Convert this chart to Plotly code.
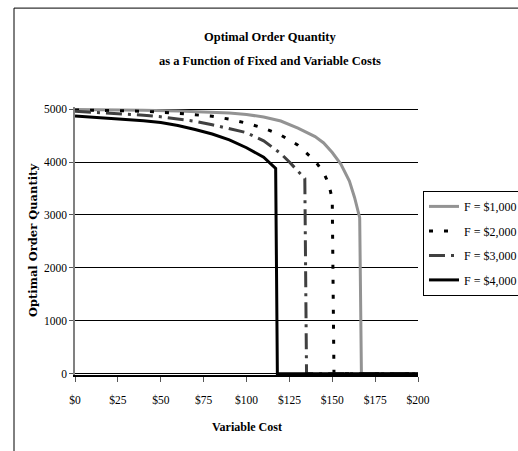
import plotly.graph_objects as go

# ---- data ----
x_f1000 = [0, 20, 40, 60, 80, 90, 100, 110, 120, 130, 140, 145, 150, 155, 160, 163, 166, 167, 175, 200]
q_f1000 = [4995, 4990, 4980, 4965, 4940, 4925, 4900, 4850, 4775, 4640, 4480, 4360, 4180, 3960, 3640, 3330, 2950, 0, 0, 0]

x_f2000 = [0, 20, 40, 60, 70, 80, 90, 100, 110, 120, 130, 140, 145, 148, 150, 151, 175, 200]
q_f2000 = [4985, 4975, 4960, 4920, 4895, 4865, 4810, 4735, 4640, 4510, 4320, 4020, 3800, 3580, 3300, 0, 0, 0]

x_f3000 = [0, 10, 20, 30, 40, 50, 60, 70, 80, 90, 100, 110, 115, 120, 125, 130, 134, 135, 175, 200]
q_f3000 = [4960, 4940, 4925, 4910, 4885, 4855, 4815, 4770, 4705, 4630, 4555, 4400, 4280, 4160, 4000, 3820, 3690, 0, 0, 0]

x_f4000 = [0, 10, 20, 30, 40, 50, 60, 70, 80, 90, 100, 110, 117, 118, 150, 200]
q_f4000 = [4870, 4850, 4830, 4808, 4778, 4745, 4690, 4615, 4530, 4420, 4270, 4090, 3880, 0, 0, 0]

series_names = ["F = $1,000", "F = $2,000", "F = $3,000", "F = $4,000"]
x_ticks = [0, 25, 50, 75, 100, 125, 150, 175, 200]
x_tick_labels = ["$0", "$25", "$50", "$75", "$100", "$125", "$150", "$175", "$200"]
y_ticks = [0, 1000, 2000, 3000, 4000, 5000]

FONT = "Liberation Serif, Times New Roman, serif"

fig = go.Figure()
styles = [
    dict(color="#939393", width=3, dash="solid"),
    dict(color="#000000", width=3, dash="4px,11px"),
    dict(color="#404040", width=3, dash="16px,6px,3px,6px"),
    dict(color="#000000", width=3, dash="solid"),
]
for i, (name, xs, ys, st) in enumerate(zip(series_names,
                                           [x_f1000, x_f2000, x_f3000, x_f4000],
                                           [q_f1000, q_f2000, q_f3000, q_f4000],
                                           styles)):
    fig.add_trace(go.Scatter(x=xs, y=ys, mode="lines", name=name, line=st,
                             legendgroup="g%d" % i))

fig.update_layout(
    width=518, height=451,
    margin=dict(l=75, r=100, t=107, b=76, autoexpand=False),
    paper_bgcolor="white", plot_bgcolor="white",
    font=dict(family=FONT, size=11.5, color="black"),
    showlegend=True,
    legend=dict(x=(423 - 75) / 343, y=(375.3 - 191) / 268.3, xanchor="left", yanchor="top",
                bordercolor="black", borderwidth=1, bgcolor="white",
                font=dict(family=FONT, size=12, color="black"),
                tracegroupgap=5.5, itemwidth=30),
    xaxis=dict(range=[0, 200], tickvals=x_ticks, ticktext=x_tick_labels,
               showgrid=False, zeroline=False, showline=True, linecolor="black",
               linewidth=1.5, ticks="outside", ticklen=5, tickcolor="#555555",
               ticklabelstandoff=8,
               tickfont=dict(family=FONT, size=11.5, color="black")),
    yaxis=dict(range=[-25, 5040], tickvals=y_ticks,
               showgrid=True, gridcolor="black", gridwidth=1, zeroline=False,
               showline=True, linecolor="#808080", linewidth=1.5,
               ticks="outside", ticklen=4, tickcolor="#555555",
               tickfont=dict(family=FONT, size=11.5, color="black")),
    annotations=[
        dict(text="<b>Optimal Order Quantity</b>", xref="paper", yref="paper",
             x=0.5685, y=1.261, xanchor="center", yanchor="middle", showarrow=False,
             font=dict(family=FONT, size=12.5, color="black")),
        dict(text="<b>as a Function of Fixed and Variable Costs</b>", xref="paper", yref="paper",
             x=0.5685, y=1.1715, xanchor="center", yanchor="middle", showarrow=False,
             font=dict(family=FONT, size=12.5, color="black")),
        dict(text="<b>Variable Cost</b>", xref="paper", yref="paper",
             x=0.5, y=-0.193, xanchor="center", yanchor="middle", showarrow=False,
             font=dict(family=FONT, size=12, color="black")),
        dict(text="<b>Optimal Order Quantity</b>", xref="paper", yref="paper",
             x=-0.1224, y=0.5, xanchor="center", yanchor="middle", showarrow=False,
             textangle=-90, font=dict(family="DejaVu Serif, serif", size=11.5, color="black")),
    ],
    shapes=[
        dict(type="rect", xref="paper", yref="paper", x0=-0.1778, x1=2.0, y0=-1.0, y1=1.369,
             line=dict(color="black", width=1), fillcolor="rgba(0,0,0,0)", layer="below"),
    ],
)

fig.write_html("out.html")
